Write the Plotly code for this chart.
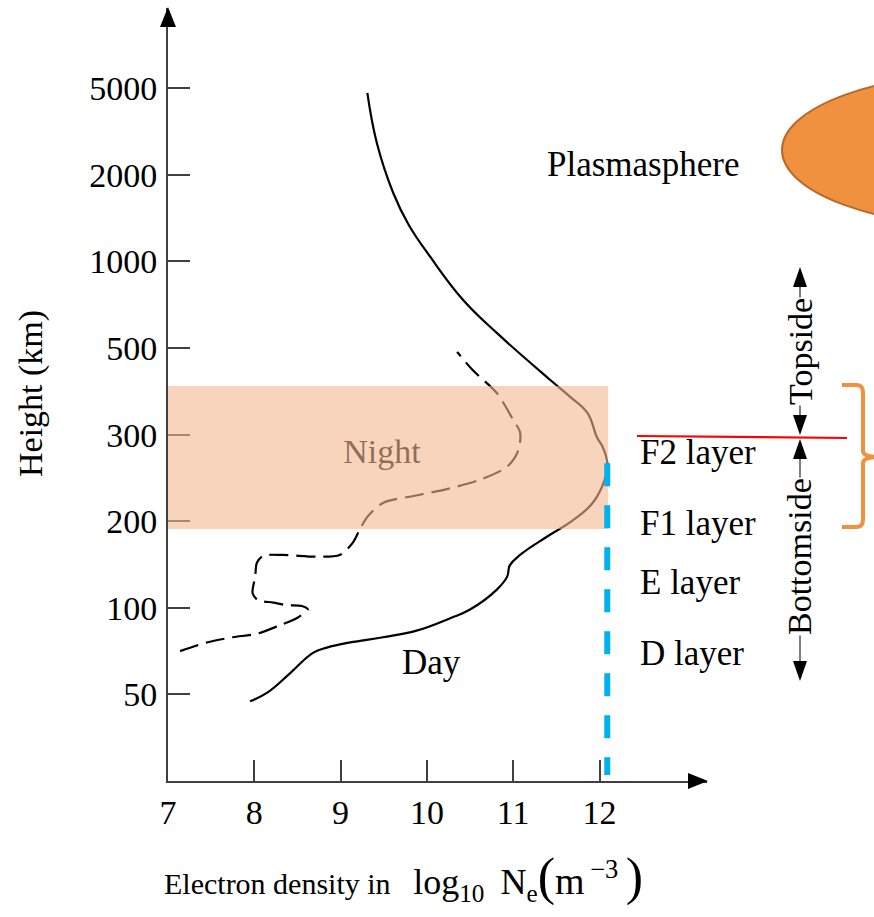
import numpy as np
import plotly.graph_objects as go

# ---------------- data ----------------
tick_heights = [50, 100, 200, 300, 500, 1000, 2000, 5000]          # km, equally spaced on the axis
tick_labels = ["50", "100", "200", "300", "500", "1000", "2000", "5000"]
x_ticks = [7, 8, 9, 10, 11, 12]

# Daytime profile: log10 Ne vs height (km)
day_ne = [7.95, 8.15, 8.41, 8.68, 8.84, 9.11, 9.49, 9.89, 10.27, 10.50, 10.81, 10.93, 10.96,
          11.08, 11.39, 11.69, 11.92, 12.06, 12.09, 12.04, 11.97, 11.86, 11.66, 11.43, 10.81,
          10.42, 10.04, 9.79, 9.61, 9.42, 9.31]
day_h = [46, 51, 62, 74, 77, 80, 83, 87, 94, 99, 121, 136, 149, 161, 182, 201, 221, 248, 267,
         285, 297, 350, 387, 426, 587, 777, 1051, 1420, 1790, 3100, 4835]

# Night-time profile
night_ne = [7.14, 7.45, 7.75, 8.03, 8.30, 8.49, 8.62, 8.55, 8.38, 8.22, 8.04, 7.98, 8.01, 8.03,
            8.10, 8.33, 8.73, 8.99, 9.14, 9.22, 9.31, 9.49, 9.89, 10.23, 10.62, 10.93, 11.06,
            11.08, 11.00, 10.81, 10.53, 10.35]
night_h = [75, 80, 83, 85, 90, 94, 99, 102, 103, 106, 109, 117, 136, 152, 160, 161, 159, 161,
           175, 190, 205, 221, 230, 237, 248, 263, 282, 305, 334, 396, 449, 491]

# F region band (km)
band_bottom_km, band_top_km, band_right_ne = 191, 412, 12.10

layer_labels = ["F2 layer", "F1 layer", "E layer", "D layer"]

# ---------------- scale helpers ----------------
pos_heights = [0] + tick_heights
pos_index = list(range(-1, len(tick_heights)))


def to_pos(h):
    return np.interp(np.asarray(h, dtype=float), pos_heights, pos_index)


# plot-area pixel frame (for decorations outside the axes)
L, R, T, B = 168, 707, 8, 781


def P(px, py):
    return (px - L) / (R - L), (B - py) / (B - T)


def path(cmds):
    out = []
    for c in cmds:
        if isinstance(c, str):
            out.append(c)
        else:
            x, y = P(*c)
            out.append(f"{x:.5f},{y:.5f}")
    return " ".join(out)


SERIF = "Liberation Serif, Times New Roman, serif"
AX = "#404040"

fig = go.Figure()

fig.add_trace(go.Scatter(x=day_ne, y=to_pos(day_h), mode="lines",
                         line=dict(color="black", width=2.2, shape="spline", smoothing=1.2),
                         hoverinfo="skip"))
fig.add_trace(go.Scatter(x=night_ne, y=to_pos(night_h), mode="lines",
                         line=dict(color="black", width=2.2, dash="19px,8px",
                                   shape="spline", smoothing=0.8),
                         hoverinfo="skip"))
# labels that sit under the translucent band
fig.add_trace(go.Scatter(x=[9.48], y=[2.77], mode="text", text=["Night"],
                         textfont=dict(family=SERIF, size=34, color="black"),
                         textposition="middle center", hoverinfo="skip"))

peak_i = int(np.argmax(day_ne))
peak_x = day_ne[peak_i]
peak_y = float(to_pos(day_h[peak_i]))

shapes = []
# translucent F-region band
shapes.append(dict(type="rect", xref="x", yref="y", x0=7, x1=band_right_ne,
                   y0=float(to_pos(band_bottom_km)), y1=float(to_pos(band_top_km)),
                   fillcolor="rgba(244,183,145,0.6)", line=dict(width=0), layer="above"))
# blue dashed line from peak down to axis
shapes.append(dict(type="line", xref="x", yref="y", x0=peak_x, x1=peak_x, y0=peak_y, y1=-0.93,
                   line=dict(color="#00B0F0", width=6, dash="23px,19px"), layer="above"))
# axis arrowheads
shapes.append(dict(type="path", xref="paper", yref="paper",
                   path=path(["M", (168, 7), "L", (160, 27), "L", (176, 27), "Z"]),
                   fillcolor="black", line=dict(width=0)))
shapes.append(dict(type="path", xref="paper", yref="paper",
                   path=path(["M", (708, 781), "L", (688, 773), "L", (688, 789), "Z"]),
                   fillcolor="black", line=dict(width=0)))
# plasmasphere ellipse
shapes.append(dict(type="circle", xref="paper", yref="paper",
                   x0=P(782, 0)[0], x1=P(1212, 0)[0], y0=P(0, 228)[1], y1=P(0, 72)[1],
                   fillcolor="#F0913F", line=dict(color="#B8692A", width=2)))
# red F2 peak line
shapes.append(dict(type="line", xref="paper", yref="paper",
                   x0=P(637, 436)[0], y0=P(637, 436)[1], x1=P(847, 438)[0], y1=P(847, 438)[1],
                   line=dict(color="#FF0000", width=2.2)))
# orange brace
shapes.append(dict(type="path", xref="paper", yref="paper",
                   path=path(["M", (842, 385), "L", (856, 385), "Q", (863, 385), (863, 392),
                              "L", (863, 451), "Q", (863, 457), (880, 457),
                              "M", (880, 457), "Q", (863, 457), (863, 463),
                              "L", (863, 520), "Q", (863, 527), (856, 527), "L", (842, 527)]),
                   line=dict(color="#F0913F", width=4)))
# topside / bottomside arrows
ARW = "#555555"
for y0, y1 in [(285, 418), (456, 662)]:
    shapes.append(dict(type="line", xref="paper", yref="paper",
                       x0=P(800, y0)[0], x1=P(800, y1)[0], y0=P(800, y0)[1], y1=P(800, y1)[1],
                       line=dict(color=ARW, width=1.5)))
for tip, base in [(267, 287), (435, 415), (439, 459), (681, 661)]:
    shapes.append(dict(type="path", xref="paper", yref="paper",
                       path=path(["M", (800, tip), "L", (793, base), "L", (807, base), "Z"]),
                       fillcolor="black", line=dict(width=0)))

ann = []


def A(text, px, py, size=34, xanchor="center", angle=0, color="black", bg=None):
    x, y = P(px, py)
    d = dict(text=text, x=x, y=y, xref="paper", yref="paper", showarrow=False,
             xanchor=xanchor, yanchor="middle", textangle=angle,
             font=dict(family=SERIF, size=size, color=color))
    if bg:
        d["bgcolor"] = bg
        d["borderpad"] = 0
    ann.append(d)


A("Plasmasphere", 643, 164, size=35)
A("Day", 431, 662, size=35)
for lab, yy in zip(layer_labels, [452, 523, 583, 653]):
    A(lab, 638, yy, size=35, xanchor="left")
A("Topside", 800, 352, size=34, angle=-90, bg="white")
A("Bottomside", 799, 557, size=34, angle=-90, bg="white")
A("Height (km)", 31, 394, size=34, angle=-90)
A("Electron density in \u2002"
  "<span style='font-size:36px'>log<sub>10</sub>\u2009 N<sub>e</sub></span>"
  "<span style='font-size:52px'>(</span>"
  "<span style='font-size:38px'>m<sup>\u2009−3</sup>\u2009</span>"
  "<span style='font-size:52px'>)</span>", 162, 878, size=30, xanchor="left")

fig.update_layout(
    width=874, height=917,
    margin=dict(l=L, r=874 - R, t=T, b=917 - B),
    plot_bgcolor="white", paper_bgcolor="white",
    showlegend=False,
    shapes=shapes, annotations=ann,
    xaxis=dict(range=[7, 7 + (R - L) / 86.3], tickvals=x_ticks, ticktext=[str(v) for v in x_ticks],
               ticks="inside", ticklen=21, tickwidth=2, tickcolor=AX,
               showline=True, linecolor=AX, linewidth=2, showgrid=False, zeroline=False,
               tickfont=dict(family=SERIF, size=34, color="black"), ticklabelstandoff=0,
               fixedrange=True),
    yaxis=dict(range=[-1, -1 + (B - T) / 86.6], tickvals=list(range(len(tick_heights))),
               ticktext=tick_labels,
               ticks="inside", ticklen=22, tickwidth=2, tickcolor=AX,
               showline=True, linecolor=AX, linewidth=2, showgrid=False, zeroline=False,
               tickfont=dict(family=SERIF, size=34, color="black"), ticklabelstandoff=2,
               fixedrange=True),
)

fig.write_html("out.html", config={"displayModeBar": False},
               post_script="document.body.style.margin='0';document.body.style.overflow='hidden';")
